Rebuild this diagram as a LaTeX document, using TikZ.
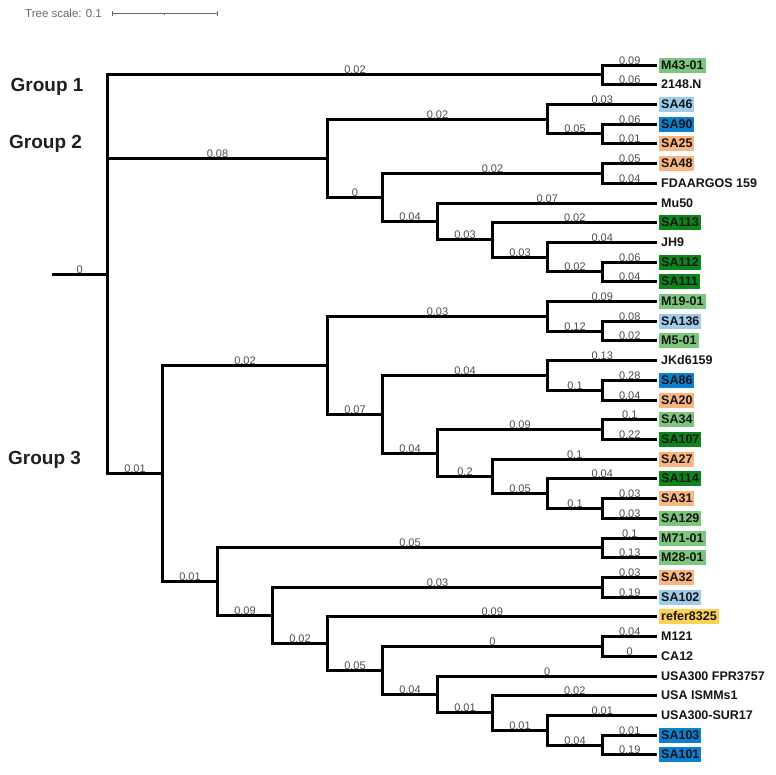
\documentclass[tikz,border=0pt]{standalone}
\usepackage{fontspec}
\setmainfont{Liberation Sans}
\definecolor{mgreen}{RGB}{125,198,125}
\definecolor{dgreen}{RGB}{12,134,26}
\definecolor{lblue}{RGB}{160,204,236}
\definecolor{dblue}{RGB}{12,128,208}
\definecolor{lorange}{RGB}{250,182,130}
\definecolor{gold}{RGB}{255,208,82}
\definecolor{scalegray}{RGB}{105,105,105}
\begin{document}
\begin{tikzpicture}[x=1pt,y=-1pt,
  br/.style={line width=3pt, line join=miter, draw=black},
  bl/.style={font=\fontsize{11}{11}\selectfont, text=black!70, anchor=base, inner sep=0pt, yshift=0.8pt},
  leaf/.style={font=\bfseries\fontsize{12.5}{12.5}\selectfont, anchor=west, inner xsep=2pt, inner ysep=2.2pt, text height=9.5pt, text depth=1.5pt, text=black!92, xshift=2pt},
  grp/.style={font=\bfseries\fontsize{19}{19}\selectfont, anchor=west, inner sep=0pt, text=black!88}]
\useasboundingbox (0,0) rectangle (776,774);

% scale bar
\node[font=\fontsize{11.5}{11.5}\selectfont, text=scalegray, anchor=west, inner sep=0pt] (ts) at (25,13) {Tree scale: 0.1};
\coordinate (sb1) at (112,13);
\coordinate (sb2) at (217,13);
\coordinate (sbm) at (164.5,13);
\draw[scalegray, line width=0.9pt] (sb1) -- (sb2);
\draw[scalegray, line width=0.9pt] ([yshift=2.5pt]sb1) -- ([yshift=-2.5pt]sb1);
\draw[scalegray, line width=0.9pt] ([yshift=2.5pt]sb2) -- ([yshift=-2.5pt]sb2);
\draw[scalegray, line width=0.9pt] (sbm) -- ([yshift=-2pt]sbm);

% group labels
\node[grp] (G1) at (10.5,87) {Group 1};
\node[grp] (G2) at (9,144) {Group 2};
\node[grp] (G3) at (8,460) {Group 3};

% leaf tips
\coordinate (t0) at (657,65.5);
\coordinate (t1) at (657,84.5);
\coordinate (t2) at (657,104.5);
\coordinate (t3) at (657,124.5);
\coordinate (t4) at (657,143.5);
\coordinate (t5) at (657,163.5);
\coordinate (t6) at (657,183.5);
\coordinate (t7) at (657,203.5);
\coordinate (t8) at (657,222.5);
\coordinate (t9) at (657,242.5);
\coordinate (t10) at (657,262.5);
\coordinate (t11) at (657,281.5);
\coordinate (t12) at (657,301.5);
\coordinate (t13) at (657,321.5);
\coordinate (t14) at (657,340.5);
\coordinate (t15) at (657,360.5);
\coordinate (t16) at (657,380.5);
\coordinate (t17) at (657,400.5);
\coordinate (t18) at (657,419.5);
\coordinate (t19) at (657,439.5);
\coordinate (t20) at (657,459.5);
\coordinate (t21) at (657,478.5);
\coordinate (t22) at (657,498.5);
\coordinate (t23) at (657,518.5);
\coordinate (t24) at (657,538.5);
\coordinate (t25) at (657,557.5);
\coordinate (t26) at (657,577.5);
\coordinate (t27) at (657,597.5);
\coordinate (t28) at (657,616.5);
\coordinate (t29) at (657,636.5);
\coordinate (t30) at (657,656.5);
\coordinate (t31) at (657,676.5);
\coordinate (t32) at (657,695.5);
\coordinate (t33) at (657,715.5);
\coordinate (t34) at (657,735.5);
\coordinate (t35) at (657,754.5);

% leaf labels
\node[leaf,fill=mgreen] (l0) at (t0) {M43-01};
\node[leaf] (l1) at (t1) {2148.N};
\node[leaf,fill=lblue] (l2) at (t2) {SA46};
\node[leaf,fill=dblue] (l3) at (t3) {SA90};
\node[leaf,fill=lorange] (l4) at (t4) {SA25};
\node[leaf,fill=lorange] (l5) at (t5) {SA48};
\node[leaf] (l6) at (t6) {FDAARGOS 159};
\node[leaf] (l7) at (t7) {Mu50};
\node[leaf,fill=dgreen] (l8) at (t8) {SA113};
\node[leaf] (l9) at (t9) {JH9};
\node[leaf,fill=dgreen] (l10) at (t10) {SA112};
\node[leaf,fill=dgreen] (l11) at (t11) {SA111};
\node[leaf,fill=mgreen] (l12) at (t12) {M19-01};
\node[leaf,fill=lblue] (l13) at (t13) {SA136};
\node[leaf,fill=mgreen] (l14) at (t14) {M5-01};
\node[leaf] (l15) at (t15) {JKd6159};
\node[leaf,fill=dblue] (l16) at (t16) {SA86};
\node[leaf,fill=lorange] (l17) at (t17) {SA20};
\node[leaf,fill=mgreen] (l18) at (t18) {SA34};
\node[leaf,fill=dgreen] (l19) at (t19) {SA107};
\node[leaf,fill=lorange] (l20) at (t20) {SA27};
\node[leaf,fill=dgreen] (l21) at (t21) {SA114};
\node[leaf,fill=lorange] (l22) at (t22) {SA31};
\node[leaf,fill=mgreen] (l23) at (t23) {SA129};
\node[leaf,fill=mgreen] (l24) at (t24) {M71-01};
\node[leaf,fill=mgreen] (l25) at (t25) {M28-01};
\node[leaf,fill=lorange] (l26) at (t26) {SA32};
\node[leaf,fill=lblue] (l27) at (t27) {SA102};
\node[leaf,fill=gold] (l28) at (t28) {refer8325};
\node[leaf] (l29) at (t29) {M121};
\node[leaf] (l30) at (t30) {CA12};
\node[leaf] (l31) at (t31) {USA300 FPR3757};
\node[leaf] (l32) at (t32) {USA ISMMs1};
\node[leaf] (l33) at (t33) {USA300-SUR17};
\node[leaf,fill=dblue] (l34) at (t34) {SA103};
\node[leaf,fill=dblue] (l35) at (t35) {SA101};

% internal nodes
\coordinate (g1) at (602.5,74.5);
\coordinate (a1) at (602.5,133.5);
\coordinate (a2) at (547.5,119.5);
\coordinate (a3) at (602.5,173.5);
\coordinate (a4) at (602.5,271.5);
\coordinate (a5) at (547.5,257.5);
\coordinate (a6) at (492.5,239.5);
\coordinate (a7) at (437.5,221.5);
\coordinate (a8) at (382.5,197.5);
\coordinate (g2) at (327.5,158.5);
\coordinate (b1) at (602.5,331.5);
\coordinate (b2) at (547.5,316.5);
\coordinate (b3) at (602.5,390.5);
\coordinate (b4) at (547.5,375.5);
\coordinate (b5) at (602.5,429.5);
\coordinate (b6) at (602.5,508.5);
\coordinate (b7) at (547.5,493.5);
\coordinate (b8) at (492.5,476.5);
\coordinate (b9) at (437.5,453.5);
\coordinate (b10) at (382.5,414.5);
\coordinate (b11) at (327.5,365.5);
\coordinate (c1) at (602.5,547.5);
\coordinate (c2) at (602.5,587.5);
\coordinate (c3) at (602.5,646.5);
\coordinate (c4) at (602.5,745.5);
\coordinate (c5) at (547.5,730.5);
\coordinate (c6) at (492.5,712.5);
\coordinate (c7) at (437.5,694.5);
\coordinate (c8) at (382.5,670.5);
\coordinate (c9) at (327.5,643.5);
\coordinate (c10) at (272.5,615.5);
\coordinate (c11) at (217.5,581.5);
\coordinate (g3) at (162.5,473.5);
\coordinate (root) at (107.5,274.5);
\coordinate (stub) at (52,274.5);

% branches
\draw[br] (stub) -- node[bl,pos=0.5]{0} (root);
\draw[br] (root) |- node[bl,pos=0.75]{0.02} (g1);
\draw[br] (root) |- node[bl,pos=0.75]{0.08} (g2);
\draw[br] (root) |- node[bl,pos=0.75]{0.01} (g3);

\draw[br] (g1) |- node[bl,pos=0.75]{0.09} (t0);
\draw[br] (g1) |- node[bl,pos=0.75]{0.06} (t1);

\draw[br] (g2) |- node[bl,pos=0.75]{0.02} (a2);
\draw[br] (g2) |- node[bl,pos=0.75]{0} (a8);
\draw[br] (a2) |- node[bl,pos=0.75]{0.03} (t2);
\draw[br] (a2) |- node[bl,pos=0.75]{0.05} (a1);
\draw[br] (a1) |- node[bl,pos=0.75]{0.06} (t3);
\draw[br] (a1) |- node[bl,pos=0.75]{0.01} (t4);
\draw[br] (a8) |- node[bl,pos=0.75]{0.02} (a3);
\draw[br] (a8) |- node[bl,pos=0.75]{0.04} (a7);
\draw[br] (a3) |- node[bl,pos=0.75]{0.05} (t5);
\draw[br] (a3) |- node[bl,pos=0.75]{0.04} (t6);
\draw[br] (a7) |- node[bl,pos=0.75]{0.07} (t7);
\draw[br] (a7) |- node[bl,pos=0.75]{0.03} (a6);
\draw[br] (a6) |- node[bl,pos=0.75]{0.02} (t8);
\draw[br] (a6) |- node[bl,pos=0.75]{0.03} (a5);
\draw[br] (a5) |- node[bl,pos=0.75]{0.04} (t9);
\draw[br] (a5) |- node[bl,pos=0.75]{0.02} (a4);
\draw[br] (a4) |- node[bl,pos=0.75]{0.06} (t10);
\draw[br] (a4) |- node[bl,pos=0.75]{0.04} (t11);

\draw[br] (g3) |- node[bl,pos=0.75]{0.02} (b11);
\draw[br] (g3) |- node[bl,pos=0.75]{0.01} (c11);
\draw[br] (b11) |- node[bl,pos=0.75]{0.03} (b2);
\draw[br] (b11) |- node[bl,pos=0.75]{0.07} (b10);
\draw[br] (b2) |- node[bl,pos=0.75]{0.09} (t12);
\draw[br] (b2) |- node[bl,pos=0.75]{0.12} (b1);
\draw[br] (b1) |- node[bl,pos=0.75]{0.08} (t13);
\draw[br] (b1) |- node[bl,pos=0.75]{0.02} (t14);
\draw[br] (b10) |- node[bl,pos=0.75]{0.04} (b4);
\draw[br] (b10) |- node[bl,pos=0.75]{0.04} (b9);
\draw[br] (b4) |- node[bl,pos=0.75]{0.13} (t15);
\draw[br] (b4) |- node[bl,pos=0.75]{0.1} (b3);
\draw[br] (b3) |- node[bl,pos=0.75]{0.28} (t16);
\draw[br] (b3) |- node[bl,pos=0.75]{0.04} (t17);
\draw[br] (b9) |- node[bl,pos=0.75]{0.09} (b5);
\draw[br] (b9) |- node[bl,pos=0.75]{0.2} (b8);
\draw[br] (b5) |- node[bl,pos=0.75]{0.1} (t18);
\draw[br] (b5) |- node[bl,pos=0.75]{0.22} (t19);
\draw[br] (b8) |- node[bl,pos=0.75]{0.1} (t20);
\draw[br] (b8) |- node[bl,pos=0.75]{0.05} (b7);
\draw[br] (b7) |- node[bl,pos=0.75]{0.04} (t21);
\draw[br] (b7) |- node[bl,pos=0.75]{0.1} (b6);
\draw[br] (b6) |- node[bl,pos=0.75]{0.03} (t22);
\draw[br] (b6) |- node[bl,pos=0.75]{0.03} (t23);

\draw[br] (c11) |- node[bl,pos=0.75]{0.05} (c1);
\draw[br] (c11) |- node[bl,pos=0.75]{0.09} (c10);
\draw[br] (c1) |- node[bl,pos=0.75]{0.1} (t24);
\draw[br] (c1) |- node[bl,pos=0.75]{0.13} (t25);
\draw[br] (c10) |- node[bl,pos=0.75]{0.03} (c2);
\draw[br] (c10) |- node[bl,pos=0.75]{0.02} (c9);
\draw[br] (c2) |- node[bl,pos=0.75]{0.03} (t26);
\draw[br] (c2) |- node[bl,pos=0.75]{0.19} (t27);
\draw[br] (c9) |- node[bl,pos=0.75]{0.09} (t28);
\draw[br] (c9) |- node[bl,pos=0.75]{0.05} (c8);
\draw[br] (c8) |- node[bl,pos=0.75]{0} (c3);
\draw[br] (c8) |- node[bl,pos=0.75]{0.04} (c7);
\draw[br] (c3) |- node[bl,pos=0.75]{0.04} (t29);
\draw[br] (c3) |- node[bl,pos=0.75]{0} (t30);
\draw[br] (c7) |- node[bl,pos=0.75]{0} (t31);
\draw[br] (c7) |- node[bl,pos=0.75]{0.01} (c6);
\draw[br] (c6) |- node[bl,pos=0.75]{0.02} (t32);
\draw[br] (c6) |- node[bl,pos=0.75]{0.01} (c5);
\draw[br] (c5) |- node[bl,pos=0.75]{0.01} (t33);
\draw[br] (c5) |- node[bl,pos=0.75]{0.04} (c4);
\draw[br] (c4) |- node[bl,pos=0.75]{0.01} (t34);
\draw[br] (c4) |- node[bl,pos=0.75]{0.19} (t35);
\end{tikzpicture}
\end{document}
